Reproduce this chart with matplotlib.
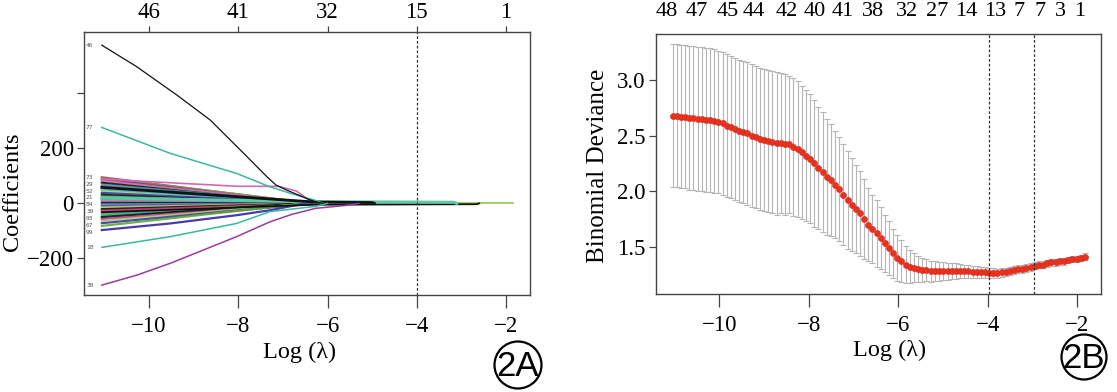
import matplotlib.pyplot as plt
from matplotlib.patches import Ellipse

plt.rcParams['font.family'] = ['Liberation Serif', 'DejaVu Serif']
plt.rcParams['axes.unicode_minus'] = True

# ---------------- panel 2A : coefficient paths ----------------
a_ticks = [-10, -8, -6, -4, -2]
a_top_labels = ['46', '41', '32', '15', '1']
a_cut = -4.0

# main named paths (log lambda, coefficient)
p46_x = [-11.06, -10.28, -9.38, -8.63, -7.88, -7.36, -7.15, -6.91, -6.43, -6.27, -6.1]
p46_y = [575, 497, 394, 303, 182, 97, 66, 48, 15, 6, 0]
p77_x = [-11.06, -9.53, -8.04, -7.29, -6.8, -6.27, -6.1]
p77_y = [276, 182, 109, 60, 35, 11, 0]
p18_x = [-11.06, -9.53, -8.04, -7.29, -6.27, -6.0]
p18_y = [-160, -121, -73, -30, -11, 0]
p38_x = [-11.06, -10.28, -9.53, -8.79, -8.04, -7.29, -6.8, -6.27, -5.62, -5.3]
p38_y = [-297, -261, -218, -170, -121, -67, -40, -18, -8, 0]
pblue_x = [-11.06, -9.53, -8.04, -7.29, -6.5]
pblue_y = [-97, -73, -43, -25, 0]
ppink_x = [-11.06, -8.0, -7.1, -6.7, -6.3]
ppink_y = [88, 62, 62, 45, 0]

# long-lived small coefficients near zero
pblk_x = [-11.06, -6.3, -5.0, -4.95]
pblk_y = [58, 5, 3, 0]
pteal_x = [-11.06, -6.3, -4.6, -3.17, -3.1]
pteal_y = [20, 6, 5, 4, 0]
pthin_x = [-11.06, -6.3, -2.65, -2.6]
pthin_y = [-32, -5, -3, 0]

# fan of smaller coefficients: start value, where it reaches zero
fan_start = [95, 92, 88, 82, 75, 68, 62, 50, 44, 38, 31, 25, 14, 8, 2,
             -4, -9, -15, -21, -27, -37, -44, -50, -57, -64, -72, -82]
fan_zero = [-6.4, -6.3, -6.5, -6.3, -6.6, -6.2, -6.4, -6.3, -6.8, -6.2, -6.5, -6.3, -6.1, -6.6,
            -6.3, -6.2, -6.4, -6.5, -6.3, -6.2, -6.4, -6.3, -6.6, -6.2, -6.4, -6.3, -6.5]
fan_colors = ['#d6317a', '#5fa83a', '#7a3d9a', '#e06aa8', '#111111', '#2aa6a0', '#c23b8c',
              '#26b5d8', '#a8cf6a', '#3a3aa8', '#111111', '#5fa83a', '#2aa6a0', '#e06aa8',
              '#111111', '#26b5d8', '#7a3d9a', '#a8cf6a', '#111111', '#d6317a', '#5fa83a',
              '#2aa6a0', '#111111', '#c23b8c', '#a8cf6a', '#3a3aa8', '#5fa83a']
# variable numbers printed at the left end (crowded block in the original)
side_labels = ['46', '77', '73', '29', '52', '21', '84', '39', '93', '67', '99', '18', '38']
side_values = [575, 276, 95, 70, 45, 20, -5, -30, -55, -80, -105, -160, -297]

# ---------------- panel 2B : cross-validation curve ----------------
log_lambda = [-11.04, -10.95, -10.85, -10.76, -10.67, -10.58, -10.48, -10.39, -10.30, -10.20,
              -10.11, -10.02, -9.92, -9.83, -9.74, -9.64, -9.55, -9.46, -9.37, -9.27,
              -9.18, -9.09, -8.99, -8.90, -8.81, -8.71, -8.62, -8.53, -8.44, -8.34,
              -8.25, -8.16, -8.06, -7.97, -7.88, -7.79, -7.69, -7.60, -7.51, -7.41,
              -7.32, -7.23, -7.13, -7.04, -6.95, -6.86, -6.76, -6.67, -6.58, -6.48,
              -6.39, -6.30, -6.20, -6.11, -6.02, -5.93, -5.83, -5.74, -5.65, -5.55,
              -5.46, -5.37, -5.27, -5.18, -5.09, -5.00, -4.90, -4.81, -4.72, -4.62,
              -4.53, -4.44, -4.34, -4.25, -4.16, -4.07, -3.97, -3.88, -3.79, -3.69,
              -3.60, -3.51, -3.41, -3.32, -3.23, -3.14, -3.04, -2.95, -2.86, -2.76,
              -2.67, -2.58, -2.48, -2.39, -2.30, -2.21, -2.11, -2.02, -1.93, -1.83]
cv_mean = [2.68, 2.68, 2.67, 2.67, 2.66, 2.66, 2.65, 2.65, 2.64, 2.64,
           2.63, 2.62, 2.61, 2.59, 2.58, 2.56, 2.54, 2.53, 2.52, 2.50,
           2.49, 2.47, 2.46, 2.45, 2.44, 2.43, 2.43, 2.42, 2.42, 2.40,
           2.38, 2.35, 2.32, 2.29, 2.25, 2.21, 2.17, 2.13, 2.10, 2.06,
           2.02, 1.97, 1.92, 1.88, 1.84, 1.80, 1.75, 1.70, 1.66, 1.62,
           1.58, 1.53, 1.49, 1.44, 1.40, 1.37, 1.34, 1.32, 1.31, 1.30,
           1.29, 1.29, 1.28, 1.28, 1.28, 1.28, 1.28, 1.28, 1.28, 1.28,
           1.28, 1.28, 1.27, 1.27, 1.27, 1.27, 1.26, 1.26, 1.26, 1.27,
           1.27, 1.28, 1.29, 1.30, 1.30, 1.31, 1.32, 1.33, 1.34, 1.34,
           1.35, 1.36, 1.36, 1.37, 1.37, 1.38, 1.39, 1.39, 1.40, 1.41]
cv_se = [0.645, 0.645, 0.645, 0.645, 0.645, 0.645, 0.645, 0.645, 0.645, 0.645,
         0.645, 0.64, 0.64, 0.64, 0.64, 0.64, 0.64, 0.64, 0.64, 0.64,
         0.64, 0.64, 0.64, 0.64, 0.64, 0.64, 0.63, 0.63, 0.62, 0.62,
         0.61, 0.60, 0.59, 0.58, 0.57, 0.55, 0.54, 0.52, 0.50, 0.48,
         0.47, 0.45, 0.44, 0.42, 0.40, 0.38, 0.36, 0.33, 0.31, 0.30,
         0.28, 0.26, 0.24, 0.22, 0.21, 0.19, 0.17, 0.15, 0.13, 0.12,
         0.11, 0.10, 0.095, 0.09, 0.085, 0.08, 0.075, 0.07, 0.07, 0.065,
         0.06, 0.06, 0.055, 0.055, 0.05, 0.05, 0.045, 0.045, 0.04, 0.04,
         0.035, 0.035, 0.035, 0.035, 0.035, 0.035, 0.035, 0.03, 0.03, 0.03,
         0.03, 0.03, 0.03, 0.03, 0.03, 0.03, 0.03, 0.03, 0.03, 0.03]
b_top_pos = [-11.17, -10.50, -9.81, -9.23, -8.49, -7.86, -7.23, -6.56,
             -5.80, -5.13, -4.48, -3.83, -3.31, -2.83, -2.38, -1.95]
b_top_labels = ['48', '47', '45', '44', '42', '40', '41', '38',
                '32', '27', '14', '13', '7', '7', '3', '1']
lambda_min = -3.97
lambda_1se = -2.97

W, H = 1117, 392
fig = plt.figure(figsize=(W / 100, H / 100), dpi=100)
axA = fig.add_axes([84 / W, 1 - 295 / H, 446 / W, 263.3 / H])
axB = fig.add_axes([656 / W, 1 - 294 / H, 444.7 / W, 260 / H])

spine_col = '#444444'
for ax in (axA, axB):
    for s in ax.spines.values():
        s.set_color(spine_col)
        s.set_linewidth(1.0)
    ax.tick_params(axis='x', length=9, width=0.9, pad=6, labelsize=16.5, color=spine_col)
    ax.tick_params(axis='y', length=5.4, width=0.9, pad=2, labelsize=16.5, color=spine_col)

# ---- draw 2A ----
axA.plot([-6.3, -1.83], [0, 0], color='#9ccc5a', lw=1.3)
for v, z, c in zip(fan_start, fan_zero, fan_colors):
    axA.plot([-11.06, z], [v, 0], color=c, lw=1.6, alpha=0.9)
axA.plot(pblue_x, pblue_y, color='#4a3aa8', lw=1.6)
axA.plot(ppink_x, ppink_y, color='#d06ab0', lw=1.2)
axA.plot(pthin_x, pthin_y, color='#111111', lw=1.3)
axA.plot(pteal_x, pteal_y, color='#5cc8a8', lw=2.2)
axA.plot(pblk_x, pblk_y, color='#111111', lw=2.0)
axA.plot(p77_x, p77_y, color='#3bb8a0', lw=1.1)
axA.plot(p18_x, p18_y, color='#3bb8a0', lw=1.1)
axA.plot(p38_x, p38_y, color='#9b3a9e', lw=1.1)
axA.plot(p46_x, p46_y, color='#111111', lw=0.9)

for txt, v in zip(side_labels, side_values):
    axA.text(-11.33, v, txt, fontsize=4.3, color='#555555', ha='center', va='center',
             family='DejaVu Sans')

axA.axvline(a_cut, color='#333333', lw=0.9, ls=(0, (2.2, 1.6)))
axA.set_xlim(-11.46, -1.46)
axA.set_ylim(-333, 624)
axA.set_xticks(a_ticks)
axA.set_yticks([-200, 0, 200, 400])
axA.set_yticklabels(['\u2212200', '0', '200', ''])
topA = axA.secondary_xaxis('top')
topA.set_xticks(a_ticks)
topA.set_xticklabels(a_top_labels)
topA.tick_params(length=4, width=0.9, pad=2, labelsize=16.5, color=spine_col)
topA.spines['top'].set_visible(False)

# ---- draw 2B ----
axB.errorbar(log_lambda, cv_mean, yerr=cv_se, fmt='none', ecolor='#b5b5b5',
             elinewidth=0.8, capsize=2.3, capthick=0.8)
axB.plot(log_lambda, cv_mean, 'o', color='#e8321f', ms=4.4, mec='#d42a1a', mew=0.4)
for xv in (lambda_min, lambda_1se):
    axB.axvline(xv, color='#333333', lw=0.9, ls=(0, (2.2, 1.6)))
axB.set_xlim(-11.41, -1.48)
axB.set_ylim(1.075, 3.414)
axB.set_xticks([-10, -8, -6, -4, -2])
axB.set_yticks([1.5, 2.0, 2.5, 3.0])
axB.set_yticklabels(['1.5', '2.0', '2.5', '3.0'])
topB = axB.secondary_xaxis('top')
topB.set_xticks(b_top_pos)
topB.set_xticklabels(b_top_labels)
topB.tick_params(length=0, pad=9, labelsize=16)
topB.spines['top'].set_visible(False)

# ---- axis titles ----
fig.text(12.5 / W, 1 - 192 / H, 'Coefficients', rotation=90, ha='center', va='center', fontsize=17.5)
fig.text(300 / W, 1 - 352 / H, 'Log (\u03bb)', ha='center', va='center', fontsize=17.5)
fig.text(598 / W, 1 - 166 / H, 'Binomial Deviance', rotation=90, ha='center', va='center', fontsize=18)
fig.text(890 / W, 1 - 350 / H, 'Log (\u03bb)', ha='center', va='center', fontsize=17.5)

# ---- circled panel tags ----
for cx, cy, d, tag in [(518, 365, 47, '2A'), (1084, 357, 45, '2B')]:
    fig.add_artist(Ellipse((cx / W, 1 - cy / H), d / W, d / H, transform=fig.transFigure,
                           fill=False, lw=1.6, color='black'))
    fig.text(cx / W, 1 - (cy + 1) / H, tag, ha='center', va='center', fontsize=25,
             family='Liberation Sans')

fig.savefig('out.png', dpi=100)
